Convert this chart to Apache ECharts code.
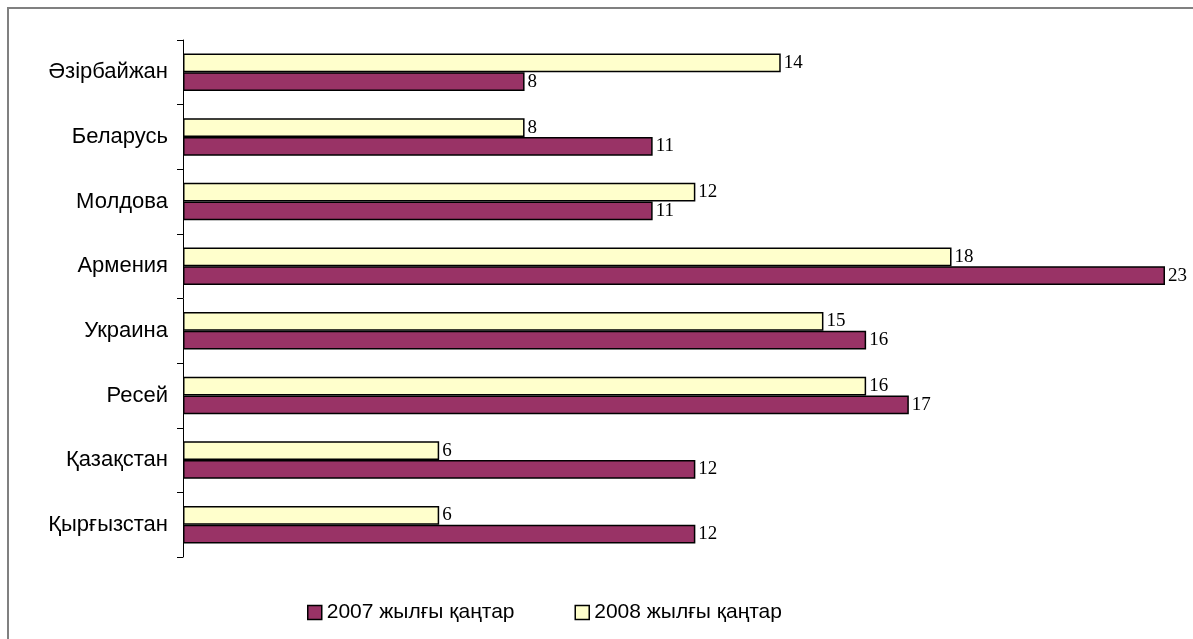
<!DOCTYPE html>
<html>
<head>
<meta charset="utf-8">
<script src="https://cdn.jsdelivr.net/npm/echarts@6/dist/echarts.min.js"></script>
<style>
html,body{margin:0;padding:0;background:#fff;}
#c{width:1193px;height:639px;}
</style>
</head>
<body>
<div id="c"></div>
<script>
const categories = ['Қырғызстан', 'Қазақстан', 'Ресей', 'Украина', 'Армения', 'Молдова', 'Беларусь', 'Әзірбайжан'];
const seriesNames = ['2007 жылғы қаңтар', '2008 жылғы қаңтар'];
const values2007 = [12, 12, 17, 16, 23, 11, 11, 8];
const values2008 = [6, 6, 16, 15, 18, 12, 8, 14];

const chart = echarts.init(document.getElementById('c'));
const labelStyle = {
  show: true, position: 'right', distance: 3,
  fontFamily: 'Liberation Serif', fontSize: 19, color: '#000'
};
chart.setOption({
  animation: false,
  graphic: [{
    type: 'rect', silent: true,
    shape: { x: 8, y: 8, width: 1300, height: 800 },
    style: { fill: 'none', stroke: '#808080', lineWidth: 2 }
  }],
  grid: { left: 183, right: 28, top: 40, bottom: 82 },
  xAxis: {
    type: 'value', min: 0, max: 23,
    show: false
  },
  yAxis: {
    type: 'category', data: categories,
    axisLine: { show: true, lineStyle: { color: '#000', width: 1 } },
    axisTick: { show: true, length: 6, lineStyle: { color: '#000' } },
    axisLabel: { fontFamily: 'Liberation Sans', fontSize: 22, color: '#000', margin: 15 },
    splitLine: { show: false }
  },
  legend: {
    bottom: 11, left: 302,
    itemWidth: 14, itemHeight: 14, itemGap: 60, itemStyle: { borderColor: '#000', borderWidth: 1.5 },
    icon: 'rect',
    textStyle: { fontFamily: 'Liberation Sans', fontSize: 21, color: '#000' },
    data: seriesNames
  },
  series: [
    {
      name: seriesNames[1], type: 'bar', data: values2008,
      barGap: '0%', barCategoryGap: '42%',
      itemStyle: { color: '#FFFFCC', borderColor: '#000', borderWidth: 1.5 },
      label: labelStyle
    },
    {
      name: seriesNames[0], type: 'bar', data: values2007,
      barGap: '0%', barCategoryGap: '42%',
      itemStyle: { color: '#993366', borderColor: '#000', borderWidth: 1.5 },
      label: labelStyle
    }
  ]
});
</script>
</body>
</html>
